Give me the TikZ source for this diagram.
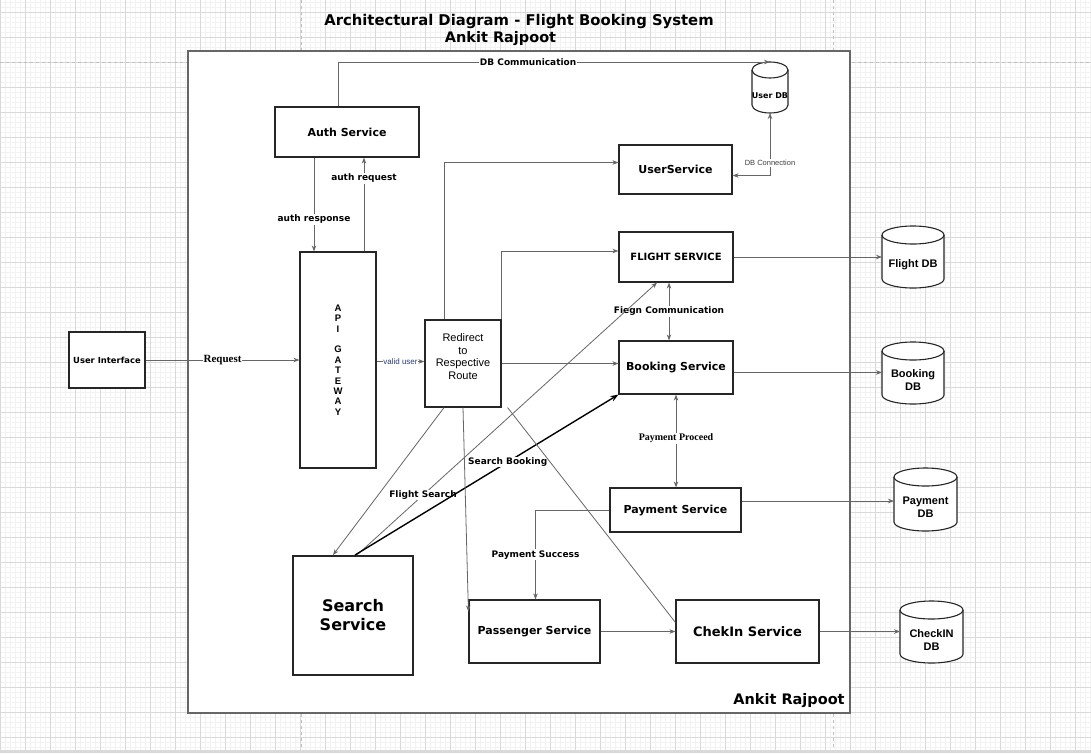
\documentclass[tikz,border=0pt]{standalone}
\usepackage{fontspec}
\setmainfont{DejaVu Sans}
\newfontfamily\arialfont{Liberation Sans}
\newfontfamily\timesfont{Liberation Serif}
\usetikzlibrary{arrows.meta,calc}

\definecolor{gridminor}{gray}{0.95}
\definecolor{gridmajor}{gray}{0.85}
\definecolor{linkgray}{gray}{0.4}
\definecolor{validblue}{RGB}{40,60,120}

\tikzset{
  svc/.style={draw=black!85, line width=1.2pt, fill=white, inner sep=0pt, align=center,
    font=\bfseries\fontsize{11}{13}\selectfont},
  dbbox/.style={inner sep=0pt, outer sep=0pt},
  dbline/.style={draw=black!85, line width=1.1pt, fill=white},
  dbtext/.style={font=\arialfont\bfseries\fontsize{11}{13}\selectfont, align=center},
  lnk/.style={draw=linkgray, line width=0.8pt, -{Stealth[length=6pt,width=4.5pt]}},
  lnkboth/.style={lnk, {Stealth[length=6pt,width=4.5pt]}-{Stealth[length=6pt,width=4.5pt]}},
  tag/.style={fill=white, inner sep=1pt, text=black, font=\bfseries\fontsize{9}{11}\selectfont},
}

\begin{document}
\begin{tikzpicture}[x=1pt, y=-1pt]
	% grid background
	\useasboundingbox (0,0) rectangle (1091,753);
	\fill[white] (0,0) rectangle (1091,753);
	\foreach \x in {0,5,...,1090} \draw[gridminor, line width=0.6pt] (\x,0) -- (\x,753);
	\foreach \y in {2.5,7.5,...,752.5} \draw[gridminor, line width=0.6pt] (0,\y) -- (1091,\y);
	\foreach \x in {0,25,...,1075} \draw[gridmajor, line width=0.7pt] (\x,0) -- (\x,753);
	\foreach \y in {12.5,37.5,...,737.5} \draw[gridmajor, line width=0.7pt] (0,\y) -- (1091,\y);
	\draw[black!25, line width=0.8pt, dash pattern=on 3pt off 3pt] (0,62.5) -- (1091,62.5);
	\draw[black!25, line width=0.8pt, dash pattern=on 3pt off 3pt] (301,0) -- (301,753);
	\draw[black!25, line width=0.8pt, dash pattern=on 3pt off 3pt] (833,0) -- (833,753);
	\fill[black!15] (0,750) rectangle (1091,753);

	% frame and titles
	\node[draw=black!60, line width=1.2pt, fill=white, minimum width=662, minimum height=662, inner sep=0pt] (frame) at (519,382) {};
	\node[font=\bfseries\fontsize{14.8}{17}\selectfont] (title) at (519,21.5) {Architectural Diagram - Flight Booking System};
	\node[font=\bfseries\fontsize{14.5}{17}\selectfont] (author) at (500.5,39) {Ankit Rajpoot};
	\node[font=\bfseries\fontsize{14.5}{17}\selectfont] (sign) at (789,701) {Ankit Rajpoot};

	% services
	\node[svc, minimum width=144, minimum height=50] (auth) at (347,132) {Auth Service};
	\node[svc, minimum width=113, minimum height=49] (users) at (675.5,169.5) {UserService};
	\node[svc, minimum width=114, minimum height=50, font=\bfseries\fontsize{10}{12}\selectfont] (flight) at (676,257) {FLIGHT SERVICE};
	\node[svc, minimum width=76, minimum height=216, font=\arialfont\bfseries\fontsize{9.5}{10.4}\selectfont] (gateway) at (338,360) {A\\P\\I\\[10.4pt]G\\A\\T\\E\\W\\A\\Y};
	\node[svc, minimum width=76, minimum height=56, font=\bfseries\fontsize{8.4}{10}\selectfont] (ui) at (107,360) {User Interface};
	\node[svc, minimum width=76, minimum height=87,
		label={[yshift=7pt, align=center, font=\arialfont\fontsize{11}{12.8}\selectfont]center:Redirect\\to\\Respective\\Route}] (redirect) at (463,363.5) {};
	\node[svc, minimum width=114, minimum height=53] (booking) at (676,367.5) {Booking Service};
	\node[svc, minimum width=131, minimum height=44] (payment) at (675.5,510) {Payment Service};
	\node[svc, minimum width=120, minimum height=119, line width=2pt, font=\bfseries\fontsize{16}{19}\selectfont] (search) at (353,615.5) {Search\\Service};
	\node[svc, minimum width=131, minimum height=63] (passenger) at (534.5,631.5) {Passenger Service};
	\node[svc, minimum width=143, minimum height=63, font=\bfseries\fontsize{13}{15}\selectfont] (chekin) at (747.5,631.5) {ChekIn Service};

	% databases
	\node[dbbox, minimum width=36, minimum height=51] (userdb) at (770,87.5) {};
	\node[dbbox, minimum width=62, minimum height=62] (flightdb) at (913,257) {};
	\node[dbbox, minimum width=62, minimum height=62] (bookingdb) at (913,373) {};
	\node[dbbox, minimum width=63, minimum height=63] (paymentdb) at (925.5,499.5) {};
	\node[dbbox, minimum width=63, minimum height=62] (checkindb) at (931.5,632) {};
	\foreach \db/\rx/\ry in {userdb/18/8, flightdb/31/9, bookingdb/31/9, paymentdb/31.5/9, checkindb/31.5/9} {
		\draw[dbline] ($(\db.north west)+(0,\ry)$) -- ($(\db.south west)+(0,-\ry)$)
			arc[start angle=180, end angle=360, x radius=\rx pt, y radius=\ry pt]
			-- ($(\db.north east)+(0,\ry)$)
			arc[start angle=0, end angle=180, x radius=\rx pt, y radius=\ry pt] -- cycle;
		\draw[dbline, fill=none] ($(\db.north west)+(0,\ry)$)
			arc[start angle=180, end angle=360, x radius=\rx pt, y radius=\ry pt];
	}
	\node[font=\bfseries\fontsize{8}{10}\selectfont] (userdbtxt) at ([yshift=-8.5pt]userdb.center) {User DB};
	\node[dbtext] (flightdbtxt) at ([yshift=-8pt]flightdb.center) {Flight DB};
	\node[dbtext] (bookingdbtxt) at ([yshift=-7.5pt]bookingdb.center) {Booking\\DB};
	\node[dbtext] (paymentdbtxt) at ([yshift=-8pt]paymentdb.center) {Payment\\DB};
	\node[dbtext] (checkindbtxt) at ([yshift=-8pt]checkindb.center) {CheckIN\\DB};

	% connectors
	\draw[lnk] ([xshift=-9pt]auth.north) |- node[tag, pos=0.72] {DB Communication} (userdb.north);
	\draw[lnkboth] (userdb.south) |- node[pos=0.4, fill=white, inner sep=1pt, text=black!75, font=\arialfont\fontsize{7.5}{9}\selectfont] {DB Connection} ([yshift=-6pt]users.east);
	\draw[lnk] ([xshift=-33pt]auth.south) -- node[tag, pos=0.66] {auth response} ([xshift=-33pt]auth.south |- gateway.north);
	\draw[lnk] ([xshift=26pt]gateway.north) -- node[tag, pos=0.78] {auth request} ([xshift=26pt]gateway.north |- auth.south);
	\draw[lnk] (ui.east) -- node[fill=white, inner sep=1pt, font=\timesfont\bfseries\fontsize{11}{13}\selectfont] {Request} (ui.east -| gateway.west);
	\draw[lnk] ([yshift=-1.5pt]gateway.east) -- node[fill=white, inner sep=0.5pt, text=validblue, font=\arialfont\fontsize{8}{9}\selectfont] {valid user} ([yshift=-1.5pt]gateway.east -| redirect.west);
	\draw[lnk] ([xshift=-19pt]redirect.north) |- ([yshift=7pt]users.west);
	\draw[lnk] (redirect.north east) |- ([yshift=6pt]flight.west);
	\draw[lnk] (redirect.east) -- (redirect.east -| booking.west);
	\draw[lnkboth] ([xshift=-7pt]flight.south) -- node[tag] {Fiegn Communication} ([xshift=-7pt]flight.south |- booking.north);
	\draw[lnkboth] (booking.south) -- node[fill=white, inner sep=1pt, font=\timesfont\bfseries\fontsize{10}{12}\selectfont, pos=0.47] {Payment Proceed} (booking.south |- payment.north);
	\draw[lnk] (payment.west) -| node[tag, pos=0.75] {Payment Success} ([xshift=1pt]passenger.north);
	\draw[lnk] (passenger.east) -- (passenger.east -| chekin.west);
	\draw[lnk] ([xshift=-19pt]redirect.south) -- ([xshift=-20pt]search.north);
	\draw[lnk] ([xshift=4pt]search.north) -- node[tag, pos=0.22] {Flight Search} ([xshift=-19pt]flight.south);
	\draw[draw=black, line width=1.4pt, -{Stealth[length=8pt,width=6pt]}] ([xshift=2pt]search.north) -- node[tag, pos=0.58] {Search Booking} (booking.south west);
	\draw[lnk] (redirect.south) -- ([yshift=-12pt]passenger.north west);
	\draw[draw=linkgray, line width=0.8pt] ([xshift=6pt]redirect.south east) -- ([yshift=-23pt]chekin.north west);
	\draw[lnk] (flight.east) -- (flight.east -| flightdb.west);
	\draw[lnk] ([yshift=-5pt]booking.east) -- ([yshift=-5pt]booking.east -| bookingdb.west);
	\draw[lnk] ([yshift=9pt]payment.east) -- ([yshift=9pt]payment.east -| paymentdb.west);
	\draw[lnk] (chekin.east) -- (chekin.east -| checkindb.west);
\end{tikzpicture}
\end{document}
